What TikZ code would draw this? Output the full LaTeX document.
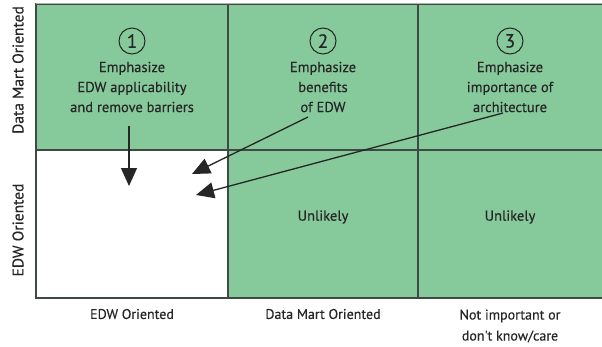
\documentclass[tikz,border=0pt]{standalone}
\usepackage{fontspec}
\setmainfont{PT Sans}
\newfontfamily\medfont{PT Sans}[FakeBold=0.35]
\usetikzlibrary{arrows.meta}
\definecolor{cellgreen}{HTML}{86C99B}
\definecolor{gridline}{HTML}{3E4A42}
\definecolor{txt}{HTML}{262626}
\tikzset{
  cell/.style={fill=cellgreen,draw=gridline,line width=1.1pt},
  lbl/.style={text=txt,font=\medfont\fontsize{14.5}{20}\selectfont,align=center},
  axis/.style={text=txt,font=\medfont\fontsize{14}{21}\selectfont,align=center},
  vaxis/.style={text=txt,font=\medfont\fontsize{15.5}{16}\selectfont,rotate=90},
  num/.style={circle,draw=txt,line width=1pt,minimum size=26pt,inner sep=0pt,text=txt,font=\medfont\fontsize{19}{19}\selectfont},
  arr/.style={draw=txt,line width=1.3pt,-{Triangle[length=18pt,width=16pt]}}
}
\begin{document}
\begin{tikzpicture}[x=1pt,y=-1pt]
\useasboundingbox (0,0) rectangle (602,346);
\fill[white] (0,0) rectangle (602,346);
% cells
\path[cell] (36,4) rectangle (228,150);
\path[cell] (228,4) rectangle (418,150);
\path[cell] (418,4) rectangle (603,150);
\path[fill=white,draw=gridline,line width=1.1pt] (36,150) rectangle (228,298);
\path[cell] (228,150) rectangle (418,298);
\path[cell] (418,150) rectangle (603,298);
\draw[gray!60,line width=1pt] (36,3.5) -- (602,3.5);
% numbers
\node[num] (n1) at (132,41) {1};
\node[num] (n2) at (323,41) {2};
\node[num] (n3) at (510,41) {3};
% texts
\node[lbl] (t1) at (132,87) {Emphasize\\EDW applicability\\and remove barriers};
\node[lbl] (t2) at (323,87) {Emphasize\\benefits\\of EDW};
\node[lbl] (t3) at (510,87) {Emphasize\\importance of\\architecture};
\node[lbl] (u1) at (323,217) {Unlikely};
\node[lbl] (u2) at (510,217) {Unlikely};
% axis labels
\node[vaxis] (y1) at (18,70) {Data Mart Oriented};
\node[vaxis] (y2) at (18,230) {EDW Oriented};
\node[axis] (x1) at (132,314) {EDW Oriented};
\node[axis] (x2) at (323,314) {Data Mart Oriented};
\node[axis] (x3) at (510,326) {Not important or\\don't know/care};
% arrows
\coordinate (s1) at (129,126);
\coordinate (e1) at (129,186);
\coordinate (s2) at (308,117);
\coordinate (e2) at (192,174);
\coordinate (s3) at (503,113);
\coordinate (e3) at (196,195);
\draw[arr] (s1) -- (e1);
\draw[arr] (s2) -- (e2);
\draw[arr] (s3) -- (e3);
\end{tikzpicture}
\end{document}
